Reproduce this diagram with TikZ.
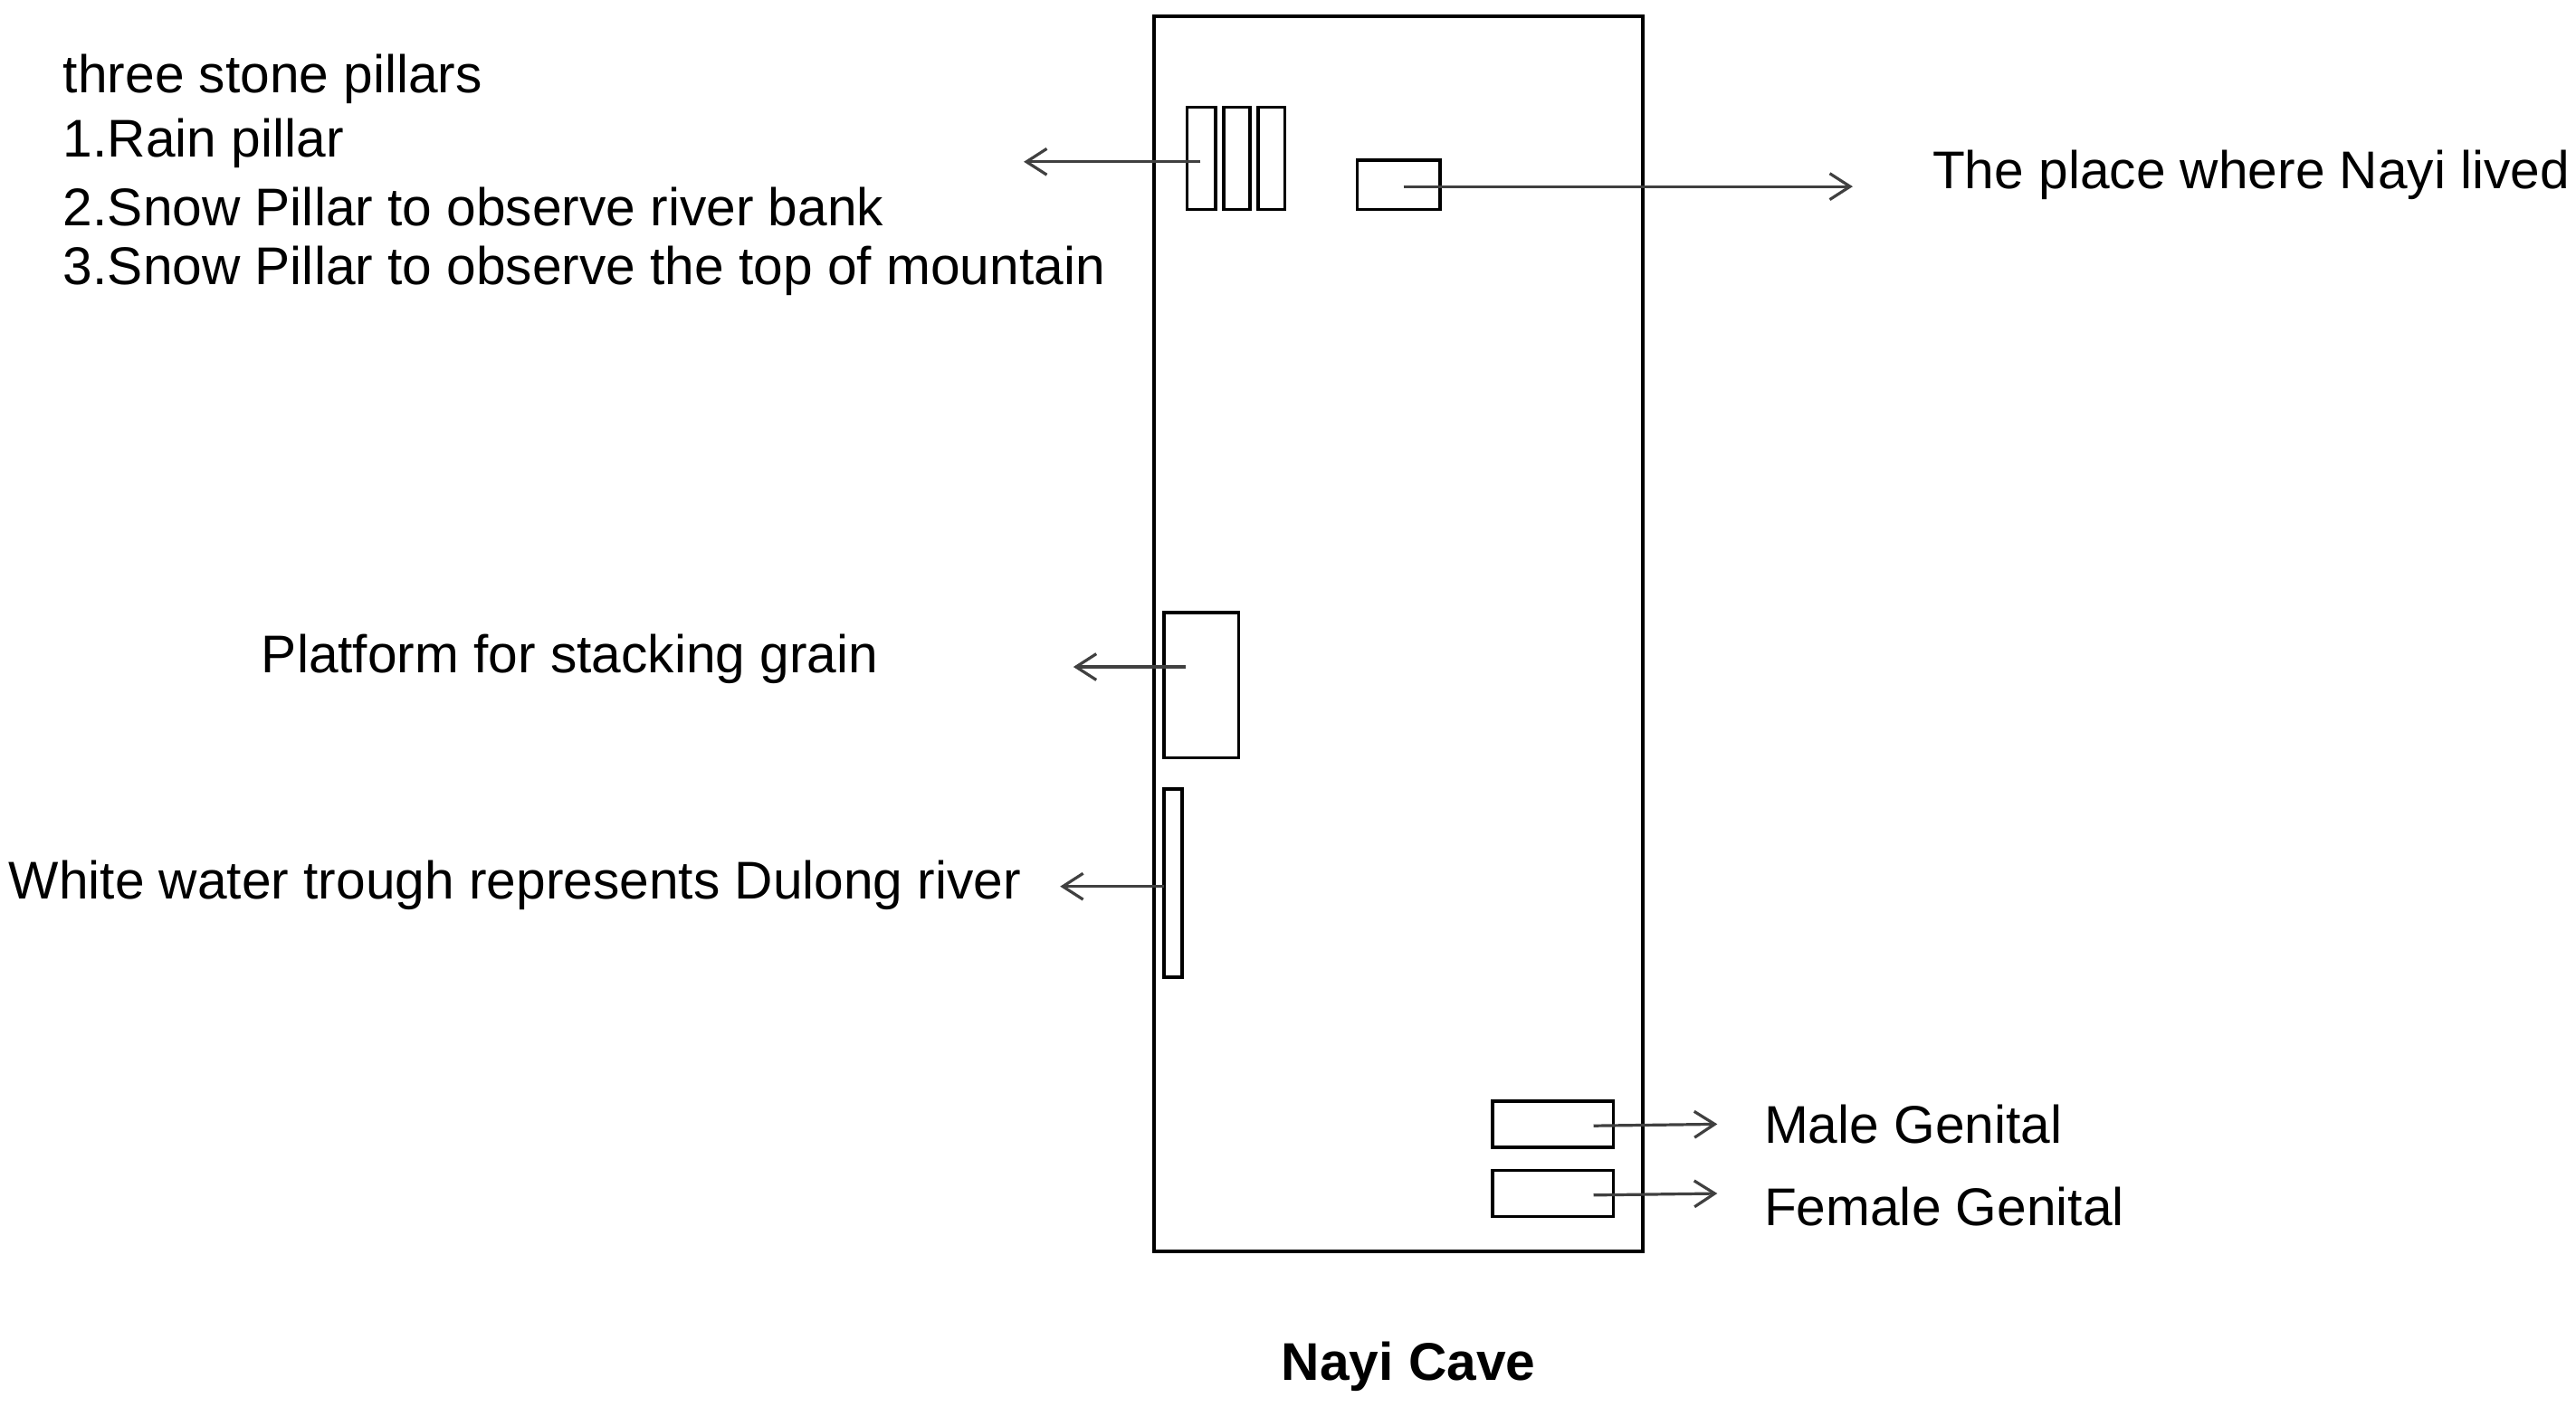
\documentclass[tikz,border=0pt]{standalone}
\usepackage{fontspec}
\setmainfont{Liberation Sans}
\usetikzlibrary{arrows.meta}
\begin{document}
\begin{tikzpicture}[x=0.02cm,y=-0.02cm,
  box/.style={draw=black,line width=1.1pt},
  arr/.style={draw=black!75,line width=1pt,-{Straight Barb[length=7pt,width=9pt]}},
  lab/.style={font=\fontsize{18.3}{22}\selectfont,inner sep=0pt},
  every node/.style={inner sep=0pt}]
\useasboundingbox (0,0) rectangle (1560,852);
\draw[box] (699,10) rectangle (995,758);
\node[box,minimum width=17*0.02cm,minimum height=62*0.02cm] (p1) at (727.5,96) {};
\node[box,minimum width=16*0.02cm,minimum height=62*0.02cm] (p2) at (749,96) {};
\node[box,minimum width=16*0.02cm,minimum height=62*0.02cm] (p3) at (770,96) {};
\node[box,minimum width=50*0.02cm,minimum height=30*0.02cm] (home) at (847,112) {};
\node[box,minimum width=45*0.02cm,minimum height=88*0.02cm] (plat) at (727.5,415) {};
\node[box,minimum width=11*0.02cm,minimum height=114*0.02cm] (trough) at (710.5,535) {};
\node[box,minimum width=73*0.02cm,minimum height=28*0.02cm] (male) at (940.5,681) {};
\node[box,minimum width=73*0.02cm,minimum height=28*0.02cm] (female) at (940.5,723) {};
\coordinate (a1) at (620,98);
\coordinate (a2) at (1122,113);
\coordinate (a3) at (650,404);
\coordinate (a4) at (642,537);
\coordinate (a5) at (1040,681);
\coordinate (a6) at (1040,723);
\draw[arr] (727,98) -- (a1);
\draw[arr] (850,113) -- (a2);
\draw[arr] (718,404) -- (a3);
\draw[arr] (705,537) -- (a4);
\draw[arr] (965,682) -- (a5);
\draw[arr] (965,724) -- (a6);
\node[lab,anchor=west] (t0) at (38,48) {three stone pillars};
\node[lab,anchor=west] (t1) at (38,87) {1.Rain pillar};
\node[lab,anchor=west] (t2) at (38,125) {2.Snow Pillar to observe river bank};
\node[lab,anchor=west] (t3) at (38,164) {3.Snow Pillar to observe the top of mountain};
\node[lab,anchor=west] (t4) at (1170,106) {The place where Nayi lived};
\node[lab,anchor=west] (t5) at (158,399) {Platform for stacking grain};
\node[lab,anchor=west] (t6) at (5,536) {White water trough represents Dulong river};
\node[lab,anchor=west] (t7) at (1068,681) {Male Genital};
\node[lab,anchor=west] (t8) at (1068,731) {Female Genital};
\node[lab,font=\fontsize{18.3}{22}\selectfont\bfseries] (t9) at (853,828) {Nayi Cave};
\end{tikzpicture}
\end{document}
